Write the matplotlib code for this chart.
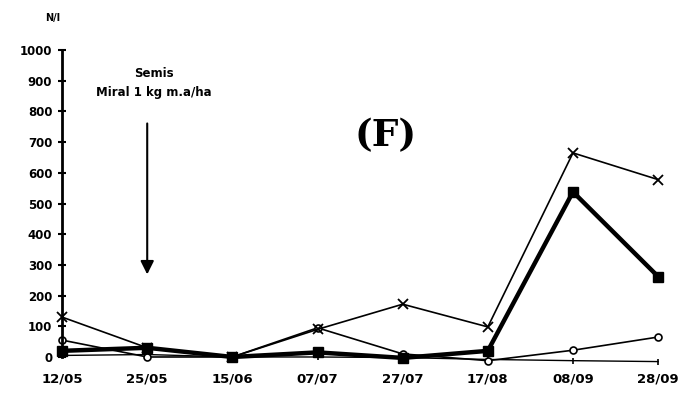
import matplotlib.pyplot as plt
import numpy as np

# sampling dates
dates = ['12/05', '25/05', '15/06', '07/07', '27/07', '17/08', '08/09', '28/09']

# N/I counts per series
cross_vals = [130, 30, 0, 90, 172, 98, 665, 578]
circle_vals = [55, 0, 0, 95, 10, -12, 22, 65]
square_vals = [20, 30, 0, 15, -3, 20, 538, 262]
tick_vals = [5, 8, 0, 0, -2, -8, -12, -15]

yticks = [0, 100, 200, 300, 400, 500, 600, 700, 800, 900, 1000]


def main():
    fig = plt.figure(figsize=(6.82, 3.97), dpi=100)
    ax = fig.add_axes([0.091, 0.1008, 0.874, 0.773])
    x = np.arange(len(dates))

    ax.plot(x, tick_vals, color='black', lw=1.0, marker='|', ms=5, mew=1.2, clip_on=False)
    ax.plot(x, circle_vals, color='black', lw=1.2, marker='o', ms=5,
            mfc='white', mec='black', mew=1.2, clip_on=False)
    ax.plot(x, cross_vals, color='black', lw=1.2, marker='x', ms=7, mew=1.3, clip_on=False)
    ax.plot(x, square_vals, color='black', lw=3.2, marker='s', ms=6.5, clip_on=False)

    ax.set_xlim(0, 7)
    ax.set_ylim(0, 1000)
    ax.set_xticks(x)
    ax.set_xticklabels(dates, fontsize=9.5, fontweight='bold')
    ax.tick_params(axis='x', length=0, pad=11)
    ax.set_yticks(yticks)
    ax.set_yticklabels([str(v) for v in yticks], fontsize=8.5, fontweight='bold')
    ax.tick_params(axis='y', direction='inout', length=6, width=1.5, pad=4)

    for side in ['top', 'right', 'bottom']:
        ax.spines[side].set_visible(False)
    ax.spines['left'].set_linewidth(2)

    fig.text(0.077, 0.955, 'N/I', fontsize=7, fontweight='bold', ha='center', va='center')

    # treatment annotation
    ax.text(1.08, 925, 'Semis', fontsize=8.5, fontweight='bold', ha='center', va='center')
    ax.text(1.08, 862, 'Miral 1 kg m.a/ha', fontsize=8.5, fontweight='bold', ha='center', va='center')
    ax.annotate('', xy=(1.0, 260), xytext=(1.0, 770),
                arrowprops=dict(arrowstyle='-|>', color='black', lw=1.5, mutation_scale=20))

    ax.text(3.8, 720, '(F)', fontsize=27, fontweight='bold', family='DejaVu Serif',
            ha='center', va='center')

    fig.savefig('out.png', dpi=100)
    plt.close(fig)


if __name__ == '__main__':
    main()
